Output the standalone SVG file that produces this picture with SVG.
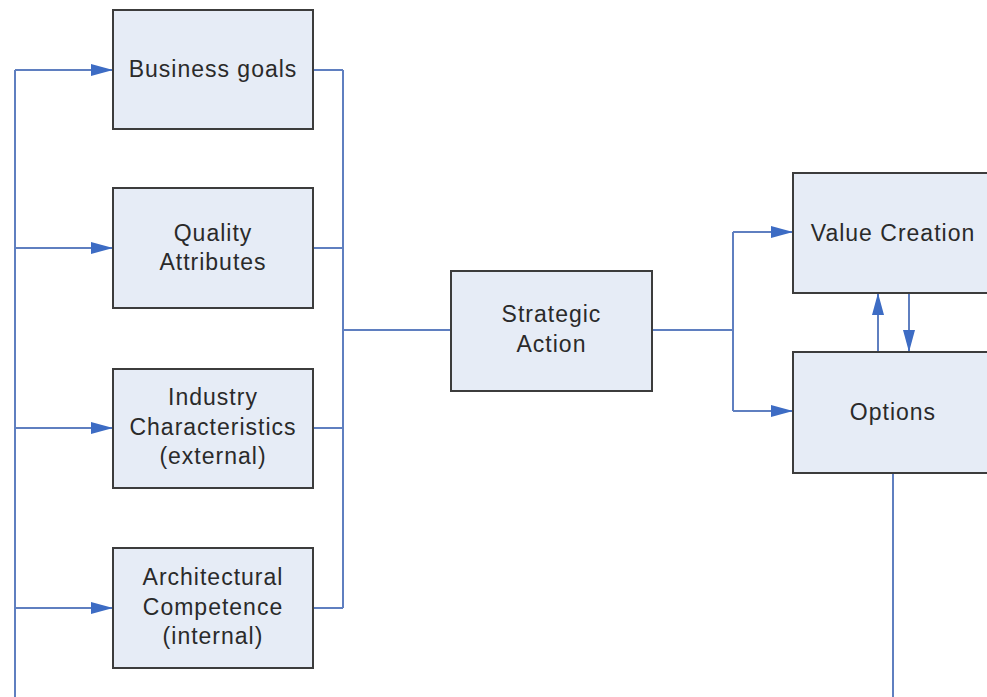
<svg xmlns="http://www.w3.org/2000/svg" width="987" height="697" viewBox="0 0 987 697">
  <style>
    .box { fill: #e6ecf6; stroke: #3c3c3c; stroke-width: 2; }
    .lbl { font-family: "Liberation Sans", Arial, sans-serif; font-size: 23px; letter-spacing: 1px; fill: #2a2a2a; text-anchor: middle; }
    .wire { fill: none; stroke: #5f7fc0; stroke-width: 2; }
    .arrow { fill: none; stroke: #5f7fc0; stroke-width: 2; marker-end: url(#head); }
  </style>
  <defs>
    <marker id="head" markerUnits="userSpaceOnUse" markerWidth="22" markerHeight="12" viewBox="0 0 22 12" refX="22" refY="6" orient="auto">
      <path d="M0,0 L22,6 L0,12 z" fill="#3d6cc4"/>
    </marker>
  </defs>
  <rect width="987" height="697" fill="#ffffff"/>

  <!-- connectors -->
  <g id="connectors">
    <!-- feedback bus on the left feeding each input -->
    <path class="wire" d="M15,70 V697"/>
    <path class="arrow" d="M15,70 H113"/>
    <path class="arrow" d="M15,248 H113"/>
    <path class="arrow" d="M15,428 H113"/>
    <path class="arrow" d="M15,608 H113"/>
    <!-- inputs merge into strategic action -->
    <path class="wire" d="M313,70 H343 M313,248 H343 M313,428 H343 M313,608 H343"/>
    <path class="wire" d="M343,70 V608"/>
    <path class="wire" d="M343,330 H451"/>
    <!-- strategic action splits to outcomes -->
    <path class="wire" d="M652,330 H733 M733,232 V411"/>
    <path class="arrow" d="M733,232 H793"/>
    <path class="arrow" d="M733,411 H793"/>
    <!-- value creation / options interplay -->
    <path class="arrow" d="M878,352 V293"/>
    <path class="arrow" d="M909,293 V352"/>
    <!-- options loop back down -->
    <path class="wire" d="M893,473 V697"/>
  </g>

  <g id="business-goals">
    <rect class="box" x="113" y="10" width="200" height="119"/>
    <text class="lbl" x="213" y="77">Business goals</text>
  </g>
  <g id="quality-attributes">
    <rect class="box" x="113" y="188" width="200" height="120"/>
    <text class="lbl" x="213" y="241">Quality</text>
    <text class="lbl" x="213" y="270">Attributes</text>
  </g>
  <g id="industry-characteristics">
    <rect class="box" x="113" y="369" width="200" height="119"/>
    <text class="lbl" x="213" y="405">Industry</text>
    <text class="lbl" x="213" y="435">Characteristics</text>
    <text class="lbl" x="213" y="464">(external)</text>
  </g>
  <g id="architectural-competence">
    <rect class="box" x="113" y="548" width="200" height="120"/>
    <text class="lbl" x="213" y="585">Architectural</text>
    <text class="lbl" x="213" y="615">Competence</text>
    <text class="lbl" x="213" y="644">(internal)</text>
  </g>
  <g id="strategic-action">
    <rect class="box" x="451" y="271" width="201" height="120"/>
    <text class="lbl" x="551.5" y="322">Strategic</text>
    <text class="lbl" x="551.5" y="352">Action</text>
  </g>
  <g id="value-creation">
    <rect class="box" x="793" y="173" width="200" height="120"/>
    <text class="lbl" x="893" y="241">Value Creation</text>
  </g>
  <g id="options">
    <rect class="box" x="793" y="352" width="200" height="121"/>
    <text class="lbl" x="893" y="420">Options</text>
  </g>
</svg>
